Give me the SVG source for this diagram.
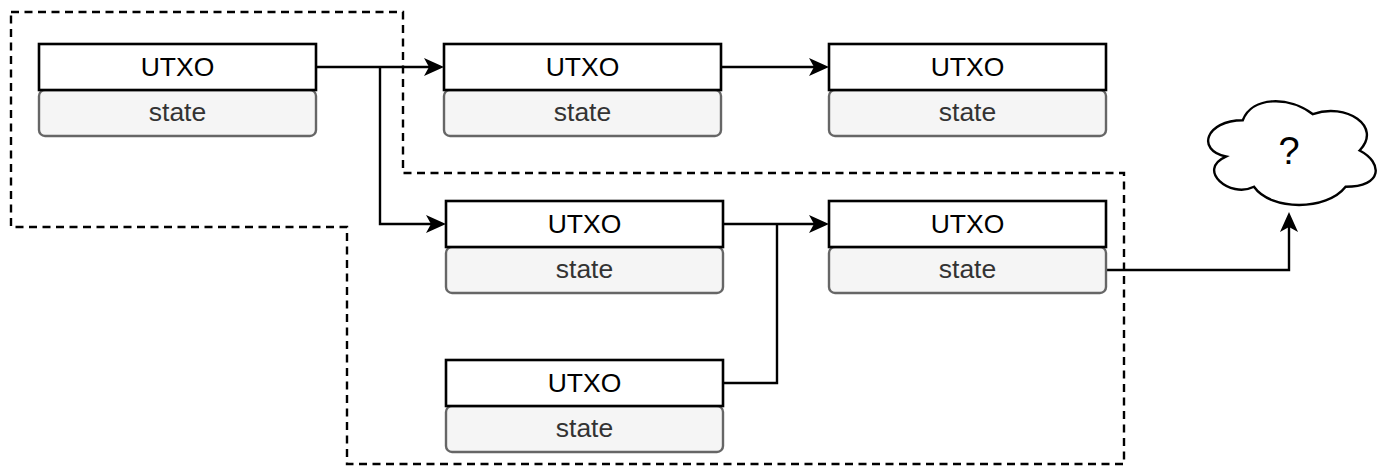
<svg xmlns="http://www.w3.org/2000/svg" width="1377" height="473" viewBox="0 0 1377 473">
  <style>
    .head { fill: #ffffff; stroke: #000000; stroke-width: 2.6; }
    .state { fill: #f5f5f5; stroke: #666666; stroke-width: 2.4; }
    .t-head { font-family: "Liberation Sans", Arial, sans-serif; font-size: 26.5px; fill: #000000; text-anchor: middle; }
    .t-state { font-family: "Liberation Sans", Arial, sans-serif; font-size: 26.5px; fill: #333333; text-anchor: middle; }
    .edge { fill: none; stroke: #000000; stroke-width: 2.4; marker-end: url(#arrow); }
    .edge-plain { fill: none; stroke: #000000; stroke-width: 2.4; }
    .zone { fill: none; stroke: #000000; stroke-width: 2.4; stroke-dasharray: 8 5.5; }
  </style>
  <defs>
    <marker id="arrow" markerUnits="userSpaceOnUse" viewBox="0 0 20 20" refX="5" refY="10" markerWidth="20" markerHeight="20" orient="auto">
      <path d="M0,1 L20,10 L0,19 L5,10 Z" fill="#000000"/>
    </marker>
  </defs>

  <!-- dashed region boundary -->
  <path class="zone" d="M11,12 H403 V173 H1124 V464 H347 V227 H11 Z"/>

  <!-- connectors -->
  <g id="connectors">
    <path class="edge" d="M316,67 H429"/>
    <path class="edge" d="M380,67 V224 H431"/>
    <path class="edge" d="M721,67 H814"/>
    <path class="edge" d="M724,224 H814"/>
    <path class="edge-plain" d="M723,383 H777 V224"/>
    <path class="edge" d="M1106,270 H1289 V227"/>
  </g>

  <!-- UTXO nodes -->
  <g id="utxo-1">
    <rect class="state" x="39" y="90" width="277" height="46" rx="6"/>
    <rect class="head" x="39" y="44" width="277" height="46"/>
    <text class="t-head" x="177.5" y="76">UTXO</text>
    <text class="t-state" x="177.5" y="121">state</text>
  </g>
  <g id="utxo-2">
    <rect class="state" x="444" y="90" width="277" height="46" rx="6"/>
    <rect class="head" x="444" y="44" width="277" height="46"/>
    <text class="t-head" x="582.5" y="76">UTXO</text>
    <text class="t-state" x="582.5" y="121">state</text>
  </g>
  <g id="utxo-3">
    <rect class="state" x="829" y="90" width="277" height="46" rx="6"/>
    <rect class="head" x="829" y="44" width="277" height="46"/>
    <text class="t-head" x="967.5" y="76">UTXO</text>
    <text class="t-state" x="967.5" y="121">state</text>
  </g>
  <g id="utxo-4">
    <rect class="state" x="446" y="247" width="277" height="46" rx="6"/>
    <rect class="head" x="446" y="201" width="277" height="46"/>
    <text class="t-head" x="584.5" y="233">UTXO</text>
    <text class="t-state" x="584.5" y="278">state</text>
  </g>
  <g id="utxo-5">
    <rect class="state" x="446" y="406" width="277" height="46" rx="6"/>
    <rect class="head" x="446" y="360" width="277" height="46"/>
    <text class="t-head" x="584.5" y="392">UTXO</text>
    <text class="t-state" x="584.5" y="437">state</text>
  </g>
  <g id="utxo-6">
    <rect class="state" x="829" y="247" width="277" height="46" rx="6"/>
    <rect class="head" x="829" y="201" width="277" height="46"/>
    <text class="t-head" x="967.5" y="233">UTXO</text>
    <text class="t-state" x="967.5" y="278">state</text>
  </g>

  <!-- unknown destination -->
  <g id="cloud">
    <path d="M1242.75,120.25 C1205.35,120.25 1196,150.5 1225.92,156.55 C1196,169.86 1229.66,198.9 1253.97,186.8 C1270.8,211 1326.9,211 1345.6,186.8 C1383,186.8 1383,162.6 1359.6,150.5 C1383,126.3 1345.6,102.1 1312.9,114.2 C1289.5,96.05 1252.1,96.05 1242.75,120.25 Z" fill="#ffffff" stroke="#000000" stroke-width="2.4"/>
    <text x="1289" y="164" font-family="Liberation Sans, Arial, sans-serif" font-size="38" text-anchor="middle" fill="#000000">?</text>
  </g>
</svg>
